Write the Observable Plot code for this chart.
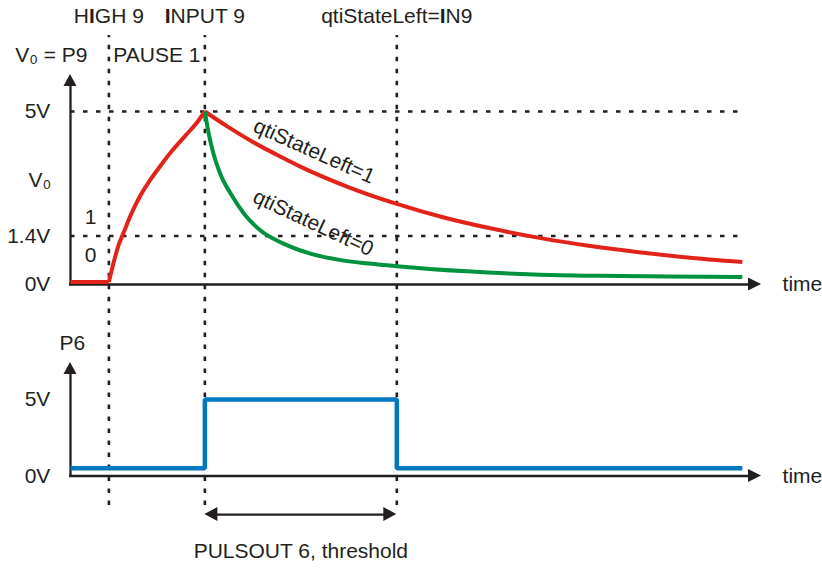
<!DOCTYPE html>
<html>
<head>
<meta charset="utf-8">
<script src="https://cdn.jsdelivr.net/npm/d3@7"></script>
<script src="https://cdn.jsdelivr.net/npm/@observablehq/plot@0.6"></script>
<style>
  body { margin: 0; background: #ffffff; }
  #chart svg { display: block; }
</style>
</head>
<body>
<div id="chart"></div>
<script>
// ---------------- data ----------------
// event times (t=0: HIGH 9, t=1: INPUT 9, t=3: qtiStateLeft=IN9)
const eventTimes = [0, 1, 3];
const eventLabels = ["HIGH 9", "INPUT 9", "qtiStateLeft=IN9"];
const pauseLabel = "PAUSE 1";
const tStart = -0.4, tEnd = 6.6, tArrow = 6.8;

// upper panel (V0 = P9)
const upperLevels = [5, 1.4, 0];
const upperLevelLabels = ["5V", "1.4V", "0V"];
const dashedLevels = [5, 1.4];
const logicLabels = ["1", "0"];
const logicLevels = [1.95, 0.85];

const flatT = [-0.4, 0];
const flatV = [0.07, 0.07];
const riseT = [0, 0.05, 0.10, 0.155, 0.225, 0.31, 0.415, 0.54, 0.66, 0.80, 0.92, 1.0];
const riseV = [0.07, 0.64, 1.13, 1.51, 1.99, 2.48, 2.96, 3.44, 3.87, 4.31, 4.69, 5.0];
const decay1T = [1.0, 1.25, 1.5, 1.75, 2.0, 2.5, 3.0, 3.5, 4.0, 4.5, 5.0, 5.5, 6.0, 6.6];
const decay1V = [5.0, 4.54, 4.12, 3.75, 3.40, 2.81, 2.33, 1.93, 1.61, 1.34, 1.12, 0.94, 0.79, 0.65];
const decay0T = [1.0, 1.04, 1.09, 1.16, 1.27, 1.41, 1.58, 1.82, 2.10, 2.45, 2.80, 3.0, 3.73, 4.43, 5.12, 5.82, 6.6];
const decay0V = [5.0, 4.36, 3.78, 3.20, 2.62, 2.04, 1.56, 1.18, 0.89, 0.69, 0.58, 0.53, 0.38, 0.29, 0.25, 0.23, 0.22];
const curveLabels = ["qtiStateLeft=1", "qtiStateLeft=0"];

// lower panel (P6)
const lowerLevels = [5, 0];
const lowerLevelLabels = ["5V", "0V"];
const p6T = [-0.4, 1, 1, 3, 3, 6.6];
const p6V = [0.5, 0.5, 5, 5, 0.5, 0.5];
const pulseLabel = "PULSOUT 6, threshold";

// ---------------- styling ----------------
const INK = "#231f20", RED = "#e2231a", GREEN = "#00923f", BLUE = "#0077c1";
const FONT = "'Liberation Sans', Arial, Helvetica, sans-serif";
const FS = 21;
const W = 822;
const xScale = {domain: [tStart, tArrow], range: [70, 761]};
const tPerPx = (tArrow - tStart) / (761 - 70);

const zip = (ts, vs) => ts.map((t, i) => ({t, v: vs[i]}));

// arrowheads as filled areas, built from a tip position and pixel size
function headRight(t, v, vPerPx, len = 13, half = 6.5) {
  return [{t: t - len * tPerPx, v1: v - half * vPerPx, v2: v + half * vPerPx},
          {t, v1: v, v2: v}];
}
function headLeft(t, v, vPerPx, len = 13, half = 7) {
  return [{t, v1: v, v2: v},
          {t: t + len * tPerPx, v1: v - half * vPerPx, v2: v + half * vPerPx}];
}
function headUp(t, v, vPerPx, len = 12, half = 6.5) {
  return [{v: v - len * vPerPx, t1: t - half * tPerPx, t2: t + half * tPerPx},
          {v, t1: t, t2: t}];
}

// ---------------- upper plot ----------------
const upVPerPx = 5 / 173;
const upper = Plot.plot({
  width: W, height: 300,
  x: {...xScale, axis: null},
  y: {domain: [0, 5], range: [284, 111], axis: null},
  style: {fontFamily: FONT, background: "#ffffff", overflow: "visible"},
  marks: [
    // event lines
    Plot.ruleX(eventTimes, {x: d => d, y1: -0.5, y2: 7.2, stroke: INK, strokeWidth: 2.6, strokeDasharray: "4.5,7.5"}),
    // threshold lines
    Plot.ruleY(dashedLevels, {y: d => d, x1: tStart, x2: tEnd, stroke: INK, strokeWidth: 2.4, strokeDasharray: "4.5,8.5"}),
    // axes
    Plot.ruleX([tStart], {x: d => d, y1: -0.03, y2: 6.07 - 11 * upVPerPx, stroke: INK, strokeWidth: 2.3}),
    Plot.ruleY([0], {y: d => d, x1: tStart - 1 * tPerPx, x2: tArrow - 11 * tPerPx, stroke: INK, strokeWidth: 2.3}),
    Plot.areaX(headUp(tStart, 6.07, upVPerPx), {y: "v", x1: "t1", x2: "t2", fill: INK}),
    Plot.areaY(headRight(tArrow, 0, upVPerPx), {x: "t", y1: "v1", y2: "v2", fill: INK}),
    // curves
    Plot.line(zip(flatT, flatV), {x: "t", y: "v", stroke: RED, strokeWidth: 4, strokeLinecap: "butt", strokeLinejoin: "miter"}),
    Plot.line(zip(riseT, riseV), {x: "t", y: "v", stroke: RED, strokeWidth: 4, strokeLinecap: "butt", curve: "monotone-x"}),
    Plot.line(zip(decay1T, decay1V), {x: "t", y: "v", stroke: RED, strokeWidth: 4, strokeLinecap: "butt", curve: "monotone-x"}),
    Plot.line(zip(decay0T, decay0V), {x: "t", y: "v", stroke: GREEN, strokeWidth: 4, strokeLinecap: "butt", curve: "monotone-x"}),
    // curve labels
    Plot.text([curveLabels[0]], {x: 2.14, y: 3.85, text: d => d, rotate: 24, fontSize: FS, fill: INK}),
    Plot.text([curveLabels[1]], {x: 2.13, y: 1.78, text: d => d, rotate: 25, fontSize: FS, fill: INK}),
    // level labels
    Plot.text(upperLevels, {x: -0.61, y: d => d, text: (d, i) => upperLevelLabels[i], textAnchor: "end", fontSize: FS, fill: INK}),
    Plot.text(logicLevels, {x: -0.19, y: d => d, text: (d, i) => logicLabels[i], fontSize: FS, fill: INK}),
    Plot.text(["V\u2080"], {x: -0.72, y: 3.0, text: d => d, fontSize: FS, fill: INK}),
    Plot.text(["V\u2080 = P9"], {x: -0.6, y: 6.62, text: d => d, fontSize: FS, fill: INK}),
    Plot.text([pauseLabel], {x: 0.5, y: 6.62, text: d => d, fontSize: FS, fill: INK}),
    Plot.text(eventTimes, {x: d => d, y: 7.75, text: (d, i) => eventLabels[i], fontSize: FS, fill: INK}),
    Plot.text(["time"], {x: 7.02, y: 0, text: d => d, textAnchor: "start", fontSize: FS, fill: INK})
  ]
});

// ---------------- lower plot ----------------
const loVPerPx = 5 / 76.5;
const lower = Plot.plot({
  width: W, height: 269,
  x: {...xScale, axis: null},
  y: {domain: [0, 5], range: [175.5, 99], axis: null},
  style: {fontFamily: FONT, background: "#ffffff", overflow: "visible"},
  marks: [
    Plot.ruleX(eventTimes, {x: d => d, y1: 11.5, y2: -2.07, stroke: INK, strokeWidth: 2.6, strokeDasharray: "4.5,7.5", strokeDashoffset: 3}),
    // axes
    Plot.ruleX([tStart], {x: d => d, y1: -0.07, y2: 7.42 - 11 * loVPerPx, stroke: INK, strokeWidth: 2.3}),
    Plot.ruleY([0], {y: d => d, x1: tStart - 1 * tPerPx, x2: tArrow - 11 * tPerPx, stroke: INK, strokeWidth: 2.3}),
    Plot.areaX(headUp(tStart, 7.42, loVPerPx), {y: "v", x1: "t1", x2: "t2", fill: INK}),
    Plot.areaY(headRight(tArrow, 0, loVPerPx), {x: "t", y1: "v1", y2: "v2", fill: INK}),
    // P6 signal
    Plot.line(zip(p6T, p6V), {x: "t", y: "v", stroke: BLUE, strokeWidth: 4.5, strokeLinecap: "butt", strokeLinejoin: "miter"}),
    // double arrow
    Plot.ruleY([-2.52], {y: d => d, x1: eventTimes[1] + 10 * tPerPx, x2: eventTimes[2] - 10 * tPerPx, stroke: INK, strokeWidth: 2.2}),
    Plot.areaY(headLeft(eventTimes[1], -2.52, loVPerPx), {x: "t", y1: "v1", y2: "v2", fill: INK}),
    Plot.areaY(headRight(eventTimes[2], -2.52, loVPerPx, 13, 7), {x: "t", y1: "v1", y2: "v2", fill: INK}),
    // labels
    Plot.text(lowerLevels, {x: -0.61, y: d => d, text: (d, i) => lowerLevelLabels[i], textAnchor: "end", fontSize: FS, fill: INK}),
    Plot.text(["P6"], {x: -0.38, y: 8.66, text: d => d, fontSize: FS, fill: INK}),
    Plot.text(["time"], {x: 7.02, y: 0, text: d => d, textAnchor: "start", fontSize: FS, fill: INK}),
    Plot.text([pulseLabel], {x: 2.0, y: -4.93, text: d => d, fontSize: FS, fill: INK})
  ]
});

// the original draws the capital I of the command names heavier
for (const el of upper.querySelectorAll("text")) {
  const s = el.textContent;
  if (eventLabels.includes(s)) {
    el.textContent = "";
    for (const ch of s) {
      const ts = document.createElementNS("http://www.w3.org/2000/svg", "tspan");
      ts.textContent = ch;
      if (ch === "I") ts.setAttribute("font-weight", "bold");
      el.appendChild(ts);
    }
  }
}

const root = document.getElementById("chart");
root.appendChild(upper);
root.appendChild(lower);
</script>
</body>
</html>
